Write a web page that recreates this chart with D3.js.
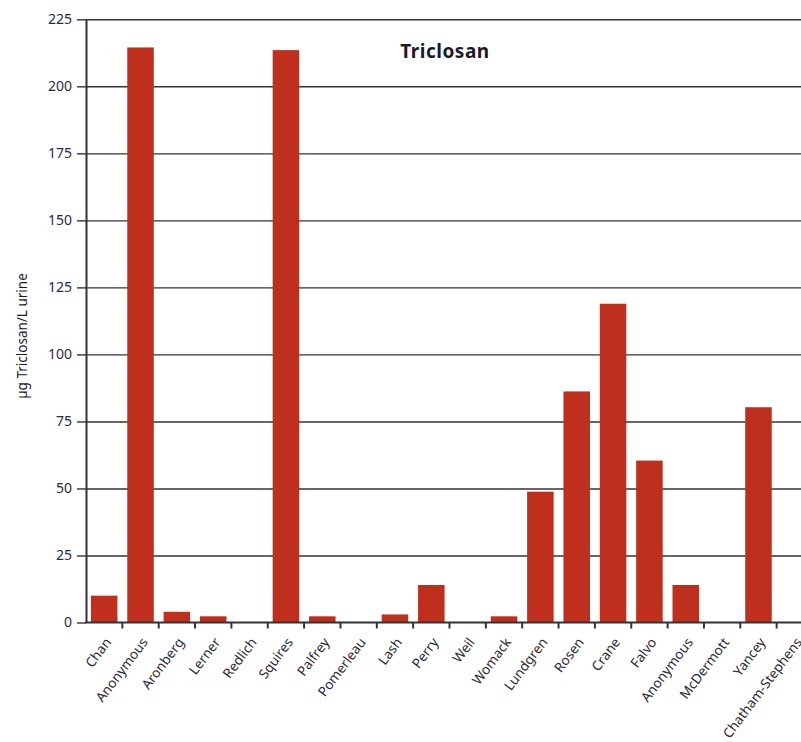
<!DOCTYPE html>
<html>
<head>
<meta charset="utf-8">
<script src="https://cdn.jsdelivr.net/npm/d3@7"></script>
<style>
  body { margin: 0; background: #fff; }
  svg { display: block; font-family: "Noto Sans", sans-serif; }
</style>
</head>
<body>
<div id="chart"></div>
<script>
// data
var names = ["Chan", "Anonymous", "Aronberg", "Lerner", "Redlich", "Squires", "Palfrey",
  "Pomerleau", "Lash", "Perry", "Weil", "Womack", "Lundgren", "Rosen", "Crane", "Falvo",
  "Anonymous ", "McDermott", "Yancey", "Chatham-Stephens"];
var values = [10, 214.5, 4, 2.3, 0, 213.5, 2.3, 0, 3, 14, 0, 2.3, 48.8, 86.2, 118.9, 60.4,
  14, 0, 80.3, 0];
var yTicks = [0, 25, 50, 75, 100, 125, 150, 175, 200, 225];
var title = "Triclosan";
var yLabel = "\u00b5g Triclosan/L urine";

var W = 801, H = 742;
var mLeft = 86, mTop = 19.3, mBottom = 622.5, bandEnd = 813;

var svg = d3.select("#chart").append("svg")
  .attr("width", W).attr("height", H);

var x = d3.scaleBand().domain(names).range([mLeft, bandEnd]).paddingInner(0.27).paddingOuter(0.135);
var y = d3.scaleLinear().domain([0, 225]).range([mBottom, mTop]);

// gridlines
svg.append("g")
  .attr("transform", "translate(" + mLeft + ",0)")
  .call(d3.axisLeft(y).tickValues(yTicks.slice(1)).tickSize(-(W - mLeft)).tickFormat(""))
  .call(function(g) {
    g.select(".domain").remove();
    g.selectAll("line").attr("stroke", "#333").attr("stroke-width", 1.4);
  });

// bars
svg.append("g").selectAll("rect")
  .data(values)
  .enter()
  .append("rect")
  .attr("x", function(d, i) { return x(names[i]); })
  .attr("width", x.bandwidth())
  .attr("y", function(d) { return y(d); })
  .attr("height", function(d) { return y(0) - y(d); })
  .style("fill", "#bf2f1d");

// y axis
svg.append("g")
  .attr("transform", "translate(" + mLeft + ",0)")
  .call(d3.axisLeft(y).tickValues(yTicks).tickSizeInner(9).tickSizeOuter(0).tickPadding(5))
  .call(function(g) {
    g.select(".domain").attr("stroke", "#333").attr("stroke-width", 2);
    g.selectAll("line").attr("stroke", "#333").attr("stroke-width", 1.4);
    g.selectAll("text").attr("fill", "#2a2a44").style("font-size", "14px")
      .style("font-family", "'Noto Sans', sans-serif");
  });

// x axis line and boundary ticks
var step = x.step();
svg.append("line")
  .attr("x1", mLeft - 1).attr("x2", W)
  .attr("y1", mBottom).attr("y2", mBottom)
  .attr("stroke", "#333").attr("stroke-width", 2);

svg.append("g").selectAll("line")
  .data(names)
  .enter()
  .append("line")
  .attr("x1", function(d) { return x(d) + x.bandwidth() + step * x.paddingInner() / 2; })
  .attr("x2", function(d) { return x(d) + x.bandwidth() + step * x.paddingInner() / 2; })
  .attr("y1", mBottom).attr("y2", mBottom + 6)
  .attr("stroke", "#333").attr("stroke-width", 2);

// x labels
svg.append("g").selectAll("text")
  .data(names)
  .enter()
  .append("text")
  .attr("transform", function(d) {
    return "translate(" + (x(d) + x.bandwidth() / 2 + 4) + "," + (mBottom + 17) + ") rotate(-53)";
  })
  .attr("text-anchor", "end")
  .attr("dy", "0.35em")
  .attr("fill", "#2a2a3a")
  .style("font-size", "13.5px")
  .text(function(d) { return d.trim(); });

// title
svg.append("text")
  .attr("x", 445).attr("y", 58)
  .attr("text-anchor", "middle")
  .attr("fill", "#1a1a2a")
  .style("font-size", "19px").style("font-weight", "bold")
  .style("letter-spacing", "0.5px")
  .text(title);

// y label
svg.append("text")
  .attr("transform", "translate(27,336) rotate(-90)")
  .attr("text-anchor", "middle")
  .attr("fill", "#1a1a2a")
  .style("font-size", "13.5px")
  .text(yLabel);
</script>
</body>
</html>
